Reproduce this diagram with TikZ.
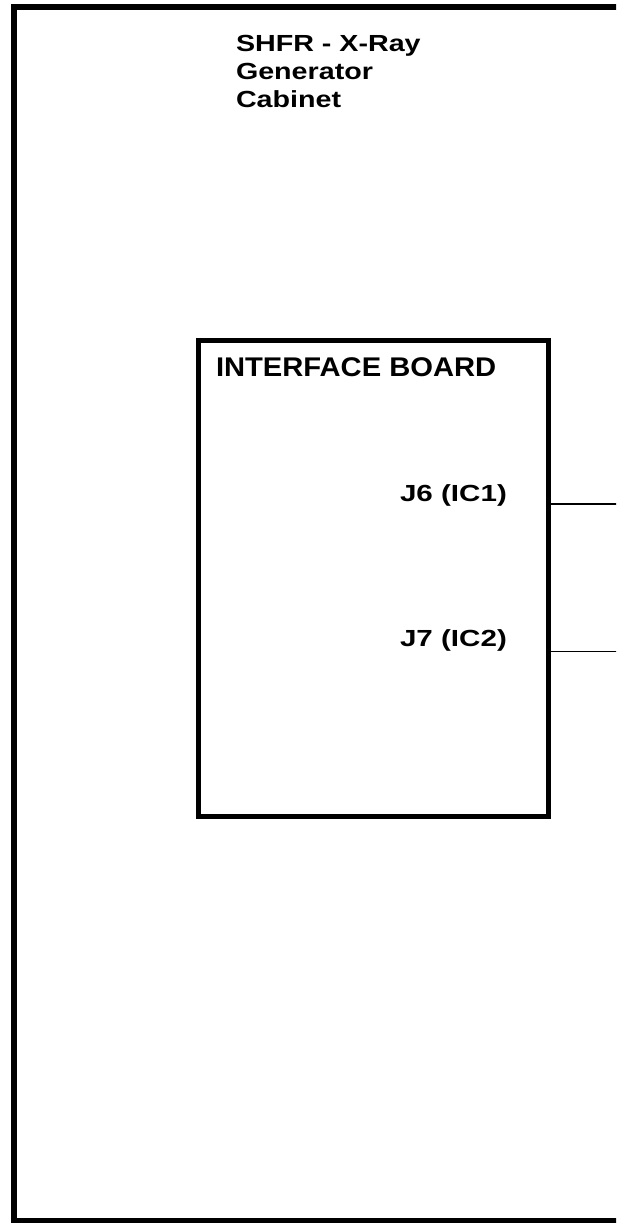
\documentclass[tikz,border=0pt]{standalone}
\usepackage{fontspec}
\setmainfont{Liberation Sans}
\usepackage{graphicx}
\begin{document}
\begin{tikzpicture}[x=1pt,y=1pt,
  cabinetbox/.style={draw=black, line width=6pt, rectangle, inner sep=0pt, outer sep=0pt, anchor=north west},
  boardbox/.style={draw=black, line width=5pt, rectangle, inner sep=0pt, outer sep=0pt, anchor=north west},
  lbl/.style={inner sep=0pt, outer sep=0pt, anchor=base west, font=\bfseries},
  wire/.style={draw=black, line width=1.3pt}]
\useasboundingbox (0,0) rectangle (616,-1223);
\clip (0,0) rectangle (616,-1223);
\fill[white] (0,0) rectangle (616,-1223);
% outer cabinet (right side runs off the page)
\node[cabinetbox, minimum width=626pt, minimum height=1213.5pt] (cabinet) at (14,-7) {};
% title
\node[lbl] (t1) at (236,-51.7) {\fontsize{23.3pt}{27.8pt}\selectfont\scalebox{1.23}[1]{SHFR - X-Ray}};
\node[lbl] (t2) at (236,-79.3) {\fontsize{23.3pt}{27.8pt}\selectfont\scalebox{1.23}[1]{Generator}};
\node[lbl] (t3) at (236,-107.2) {\fontsize{23.3pt}{27.8pt}\selectfont\scalebox{1.23}[1]{Cabinet}};
% interface board
\node[boardbox, minimum width=350pt, minimum height=476pt] (board) at (198.5,-340.5) {};
\node[lbl] (bl) at (216,-376.7) {\fontsize{27pt}{32pt}\selectfont\scalebox{1.08}[1]{INTERFACE BOARD}};
\node[lbl] (j6) at (400,-501) {\fontsize{23.3pt}{27.8pt}\selectfont\scalebox{1.27}[1]{J6 (IC1)}};
\node[lbl] (j7) at (400,-646) {\fontsize{23.3pt}{27.8pt}\selectfont\scalebox{1.27}[1]{J7 (IC2)}};
% connectors
\coordinate (j6end) at (620,-504);
\coordinate (j7end) at (620,-651.5);
\draw[wire] (board.east |- j6end) -- (j6end);
\draw[wire] (board.east |- j7end) -- (j7end);
\end{tikzpicture}
\end{document}
